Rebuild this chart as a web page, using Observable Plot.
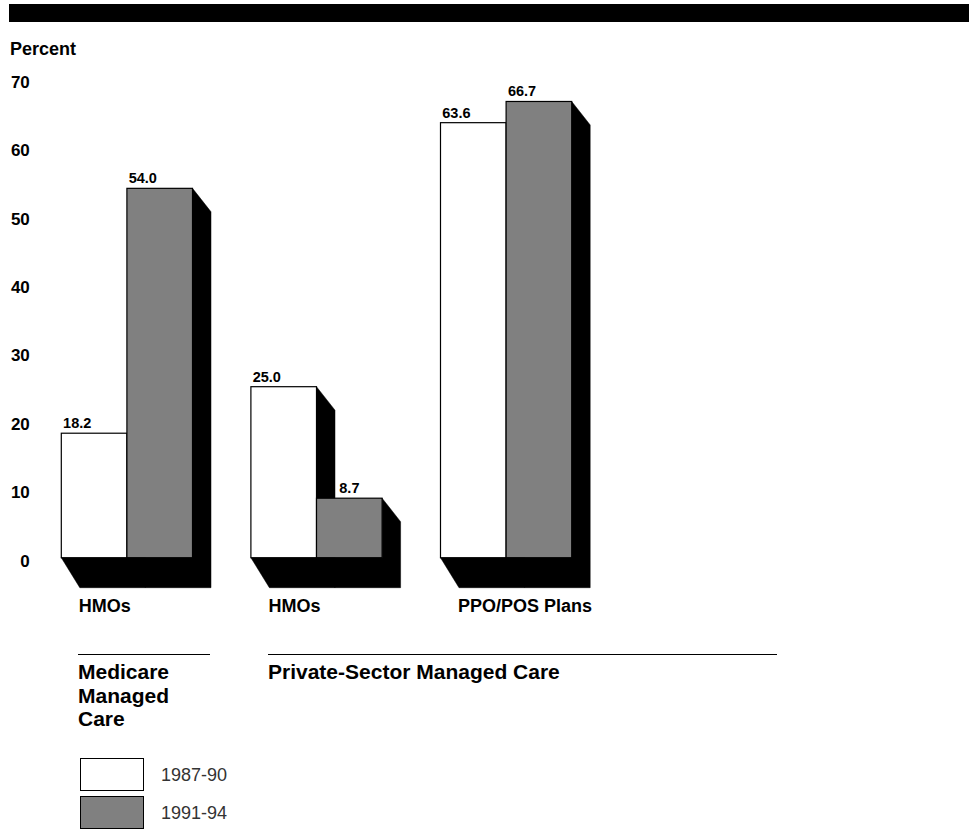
<!DOCTYPE html>
<html>
<head>
<meta charset="utf-8">
<script src="https://cdn.jsdelivr.net/npm/d3@7"></script>
<script src="https://cdn.jsdelivr.net/npm/@observablehq/plot@0.6"></script>
<style>
  html, body { margin: 0; padding: 0; background: #fff; }
  body { font-family: "Liberation Sans", Arial, Helvetica, sans-serif; }
  #page { position: relative; width: 969px; height: 829px; overflow: hidden; }
  .abs { position: absolute; white-space: nowrap; }
  #chart { position: absolute; left: 0; top: 0; }
</style>
</head>
<body>
<div id="page">
  <div id="chart"></div>
  <div class="abs" style="left:9px;top:4px;width:960px;height:18px;background:#000;"></div>
  <div class="abs" id="ylabel" style="left:10px;top:40px;font-size:18px;line-height:18px;font-weight:bold;color:#000;"></div>
  <div class="abs" style="left:78px;top:653.5px;width:132px;height:1.5px;background:#000;"></div>
  <div class="abs" style="left:268px;top:653.5px;width:509px;height:1.5px;background:#000;"></div>
  <div class="abs" id="title1" style="left:78px;top:660px;font-size:21px;line-height:23.5px;font-weight:bold;color:#000;white-space:pre;"></div>
  <div class="abs" id="title2" style="left:268px;top:660px;font-size:21px;line-height:23.5px;font-weight:bold;color:#000;"></div>
  <div id="legend"></div>
</div>
<script>
// ---- data ----
const groups = ["medicare-hmo", "private-hmo", "private-ppo"];
const groupLabels = ["HMOs", "HMOs", "PPO/POS Plans"];
const periods = ["1987-90", "1991-94"];
const values1987 = [18.2, 25.0, 63.6];
const values1991 = [54.0, 8.7, 66.7];
const yTicks = [0, 10, 20, 30, 40, 50, 60, 70];
const sectionTitles = ["Medicare\nManaged\nCare", "Private-Sector Managed Care"];
const yAxisLabel = "Percent";
const periodColors = ["#ffffff", "#808080"];

// ---- table built from arrays ----
const table = [];
groups.forEach((g, i) => {
  table.push({group: g, period: periods[0], value: values1987[i], prev: null});
  table.push({group: g, period: periods[1], value: values1991[i], prev: values1987[i]});
});
const groupTable = groups.map((g, i) => ({group: g, label: groupLabels[i]}));
// a label sits beside the shadow when the bar to its left is taller
const shadowed = d => d.prev != null && d.prev > d.value;

// ---- styling constants ----
const FONT = '"Liberation Sans", Arial, Helvetica, sans-serif';
const SHADOW_DX = 18.5, SHADOW_DY_BASE = 30, SHADOW_DY_TOP = 23.5;

function shadowRender(index, scales) {
  const {x, y} = scales;
  const bw = x.bandwidth();
  const y0 = y(0);
  const g = d3.create("svg:g");
  for (const i of index) {
    const d = table[i];
    const x1 = x(d.period), x2 = x1 + bw, yt = y(d.value);
    const pts = [
      [x1, y0], [x1 + SHADOW_DX, y0 + SHADOW_DY_BASE], [x2 + SHADOW_DX, y0 + SHADOW_DY_BASE],
      [x2 + SHADOW_DX, yt + SHADOW_DY_TOP], [x2, yt], [x2, y0]
    ];
    g.append("path").attr("d", d3.line()(pts) + "Z").attr("fill", "#000").attr("stroke", "#000").attr("stroke-width", 0.5);
  }
  return g.node();
}

const labelStyle = {
  fx: "group", x: "period", y: "value",
  text: d => d.value.toFixed(1),
  textAnchor: "start", lineAnchor: "bottom",
  dy: -5.5, fontSize: 14.5, fontWeight: "bold", fill: "#000"
};

const H = 620;
const chart = Plot.plot({
  width: 969,
  height: H,
  marginTop: 78.9,
  marginBottom: H - 557.7,
  marginLeft: 61.3,
  marginRight: 969 - 571.7,
  style: {fontFamily: FONT, background: "transparent", overflow: "visible"},
  fx: {domain: groups, paddingInner: 0.308, paddingOuter: 0, axis: null, round: false, label: null},
  x: {domain: periods, padding: 0, axis: null, round: false, label: null},
  y: {domain: [0, 70], axis: null, label: null},
  color: {domain: periods, range: periodColors},
  marks: [
    Plot.barY(table, {fx: "group", x: "period", y: "value", render: shadowRender}),
    Plot.barY(table, {fx: "group", x: "period", y: "value", fill: "period", stroke: "#000", strokeWidth: 1.2}),
    Plot.text(table, {...labelStyle, filter: d => !shadowed(d), dx: -31.5}),
    Plot.text(table, {...labelStyle, filter: d => shadowed(d), dx: -31.5 + SHADOW_DX + 2.5}),
    Plot.text(groupTable, {
      fx: "group", text: "label", frameAnchor: "bottom-left",
      textAnchor: "start", lineAnchor: "middle",
      dx: 17, dy: 48, fontSize: 18, fontWeight: "bold", fill: "#000"
    }),
    Plot.axisY({
      ticks: yTicks, tickSize: 0, tickPadding: 32, anchor: "left",
      textAnchor: "end", fontSize: 17, fontWeight: "bold", dy: 3, label: null, fill: "#000"
    })
  ]
});
document.getElementById("chart").appendChild(chart);

// ---- HTML text ----
document.getElementById("ylabel").textContent = yAxisLabel;
document.getElementById("title1").textContent = sectionTitles[0];
document.getElementById("title2").textContent = sectionTitles[1];

// ---- legend ----
const legend = document.getElementById("legend");
const legendTops = [758, 796];
periods.forEach((p, i) => {
  const box = document.createElement("div");
  box.className = "abs";
  box.style.cssText = `left:80px;top:${legendTops[i]}px;width:64px;height:32.5px;box-sizing:border-box;border:1.5px solid #000;background:${periodColors[i]};`;
  legend.appendChild(box);
  const t = document.createElement("div");
  t.className = "abs";
  t.style.cssText = `left:161px;top:${legendTops[i] + 8}px;font-size:18px;line-height:18px;color:#333;`;
  t.textContent = p;
  legend.appendChild(t);
});
</script>
</body>
</html>
